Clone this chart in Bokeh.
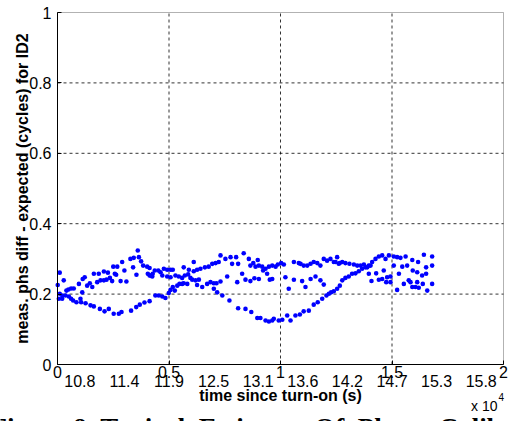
from bokeh.plotting import figure
from bokeh.models import Range1d, FixedTicker, Label, CustomJSTickFormatter, BoxAnnotation
from bokeh.embed import file_html
from bokeh.resources import INLINE

# time since turn-on, in units of 1e4 s
time_1e4s = [
    0.001, 0.010, 0.028, 0.010, 0.021, 0.006, 0.021, 0.040, 0.049, 0.061,
    0.073, 0.036, 0.051, 0.061, 0.070, 0.085, 0.103, 0.106, 0.126, 0.096,
    0.113, 0.122, 0.111, 0.133, 0.145, 0.156, 0.163, 0.185, 0.208, 0.226,
    0.148, 0.163, 0.190, 0.211, 0.230, 0.178, 0.193, 0.208, 0.220, 0.235,
    0.245, 0.252, 0.275, 0.287, 0.250, 0.268, 0.257, 0.263, 0.283, 0.309,
    0.290, 0.300, 0.327, 0.342, 0.360, 0.365, 0.375, 0.384, 0.405, 0.413,
    0.339, 0.354, 0.330, 0.353, 0.369, 0.390, 0.413,
    0.402, 0.413, 0.417, 0.427, 0.436, 0.452, 0.462, 0.477, 0.492, 0.507,
    0.517, 0.425, 0.470, 0.492, 0.507, 0.439, 0.454, 0.470, 0.484, 0.499,
    0.507, 0.517, 0.526, 0.537, 0.547, 0.559, 0.566, 0.582, 0.529, 0.544,
    0.559, 0.571, 0.566, 0.586, 0.596, 0.611, 0.589, 0.611, 0.626, 0.604,
    0.619, 0.634, 0.626, 0.649, 0.671, 0.686, 0.701, 0.713, 0.641, 0.661,
    0.678, 0.694, 0.709, 0.723, 0.731, 0.753, 0.776, 0.783, 0.801, 0.810,
    0.835, 0.701, 0.716, 0.739, 0.771, 0.810, 0.731, 0.761, 0.806, 0.828,
    0.858, 0.878, 0.898, 0.865, 0.888, 0.903, 0.918, 0.933, 0.948, 0.963,
    0.978, 0.988, 1.003, 1.015, 0.922, 0.940, 0.843, 0.865, 0.883, 0.903,
    0.952, 0.963, 0.843, 0.869, 0.896, 0.910, 0.933, 0.948, 0.963, 0.970,
    0.992, 1.008, 1.022, 1.037, 1.045, 1.060, 1.097, 1.112, 1.135, 1.157,
    1.179, 1.194, 1.030, 1.067, 1.087, 1.104, 1.127, 1.149, 1.167, 1.187,
    1.206, 1.217, 1.227, 1.239, 1.254, 1.266, 1.060, 1.082, 1.090, 1.104,
    1.120, 1.135, 1.149, 1.165, 1.179, 1.194, 1.209, 1.224, 1.239, 1.254,
    1.266,
    1.247, 1.261, 1.277, 1.291, 1.309, 1.329, 1.344, 1.359, 1.374, 1.389,
    1.404, 1.277, 1.291, 1.306, 1.321, 1.336, 1.351, 1.366, 1.381, 1.396,
    1.411, 1.426, 1.441, 1.456, 1.471, 1.486, 1.396, 1.408, 1.429, 1.441,
    1.456, 1.463, 1.474, 1.478, 1.493, 1.493, 1.508, 1.523, 1.538, 1.561,
    1.591, 1.617, 1.643, 1.653, 1.680, 1.508, 1.531, 1.546, 1.568, 1.593,
    1.613, 1.635, 1.653, 1.680, 1.523, 1.553, 1.575, 1.583, 1.605, 1.613,
    1.638, 1.658, 1.680, 1.591, 1.620,
]

# measured phase difference minus expected, in cycles
phase_diff_cycles = [
    0.226, 0.261, 0.239, 0.201, 0.196, 0.187, 0.187, 0.210, 0.213, 0.216,
    0.216, 0.196, 0.193, 0.187, 0.182, 0.177, 0.187, 0.177, 0.174, 0.229,
    0.243, 0.248, 0.205, 0.224, 0.231, 0.220, 0.258, 0.258, 0.264, 0.261,
    0.168, 0.165, 0.158, 0.151, 0.158, 0.234, 0.239, 0.239, 0.241, 0.246,
    0.237, 0.144, 0.144, 0.149, 0.278, 0.278, 0.258, 0.255, 0.237, 0.236,
    0.291, 0.267, 0.300, 0.303, 0.324, 0.305, 0.293, 0.281, 0.258, 0.253,
    0.276, 0.255, 0.153, 0.163, 0.170, 0.176, 0.180,
    0.278, 0.274, 0.253, 0.258, 0.267, 0.267, 0.262, 0.272, 0.269, 0.269,
    0.269, 0.250, 0.253, 0.250, 0.248, 0.196, 0.196, 0.193, 0.189, 0.203,
    0.212, 0.220, 0.210, 0.224, 0.229, 0.229, 0.231, 0.229, 0.253, 0.250,
    0.246, 0.253, 0.276, 0.256, 0.246, 0.291, 0.269, 0.265, 0.269, 0.241,
    0.239, 0.241, 0.226, 0.220, 0.229, 0.234, 0.231, 0.231, 0.272, 0.276,
    0.278, 0.286, 0.288, 0.291, 0.310, 0.300, 0.305, 0.286, 0.305, 0.286,
    0.316, 0.215, 0.205, 0.196, 0.182, 0.160, 0.236, 0.250, 0.234, 0.258,
    0.300, 0.288, 0.297, 0.281, 0.278, 0.281, 0.278, 0.272, 0.278, 0.281,
    0.278, 0.284, 0.288, 0.284, 0.267, 0.258, 0.241, 0.237, 0.245, 0.243,
    0.241, 0.243, 0.158, 0.149, 0.132, 0.132, 0.125, 0.122, 0.125, 0.130,
    0.125, 0.127, 0.248, 0.215, 0.125, 0.241, 0.237, 0.220, 0.243, 0.250,
    0.239, 0.227, 0.139, 0.139, 0.142, 0.151, 0.153, 0.170, 0.177, 0.187,
    0.196, 0.201, 0.205, 0.208, 0.215, 0.224, 0.291, 0.288, 0.286, 0.281,
    0.281, 0.286, 0.291, 0.288, 0.281, 0.300, 0.295, 0.300, 0.291, 0.305,
    0.288,
    0.291, 0.286, 0.291, 0.288, 0.286, 0.284, 0.281, 0.281, 0.284, 0.276,
    0.281, 0.239, 0.246, 0.250, 0.258, 0.259, 0.265, 0.272, 0.276, 0.281,
    0.291, 0.300, 0.307, 0.310, 0.300, 0.310, 0.258, 0.237, 0.259, 0.241,
    0.243, 0.267, 0.234, 0.248, 0.250, 0.234, 0.307, 0.305, 0.303, 0.307,
    0.297, 0.291, 0.312, 0.276, 0.307, 0.281, 0.258, 0.278, 0.281, 0.267,
    0.262, 0.253, 0.258, 0.281, 0.212, 0.229, 0.239, 0.234, 0.220, 0.234,
    0.229, 0.210, 0.229, 0.220, 0.218,
]

x_ticks = [0, 0.5, 1, 1.5, 2]
y_ticks = [0, 0.2, 0.4, 0.6, 0.8, 1]

# secondary time-of-day annotation along the time axis (hours)
hour_positions = [0.1, 0.3, 0.5, 0.7, 0.9, 1.1, 1.3, 1.5, 1.7, 1.9]
hour_labels = ["10.8", "11.4", "11.9", "12.5", "13.1", "13.6", "14.2", "14.7", "15.3", "15.8"]

# caption words are set with wide (en) spaces between them
caption_words = ["Figure 8", "Typical", "Estimate", "Of", "Phase", "Calibration"]
caption_text = "\u2002".join(caption_words)

# page geometry (pixels): the axes box sits inside a canvas that also
# carries the tick rows, the exponent note and the figure caption
W, H = 511, 421
BOX_L, BOX_R, BOX_T, BOX_B = 57, 503, 12, 364
X0, X1 = x_ticks[0], x_ticks[-1]
Y0, Y1 = y_ticks[0], y_ticks[-1]
xpp = (X1 - X0) / (BOX_R - BOX_L)
ypp = (Y1 - Y0) / (BOX_B - BOX_T)

SANS = "Liberation Sans"

p = figure(
    width=W, height=H,
    output_backend="svg", toolbar_location=None,
    x_range=Range1d(X0 - BOX_L * xpp, X1 + (W - BOX_R) * xpp),
    y_range=Range1d(Y0 - (H - BOX_B) * ypp, Y1 + BOX_T * ypp),
    min_border=0,
    background_fill_color="white", border_fill_color="white",
)
p.outline_line_color = None
p.xgrid.visible = False
p.ygrid.visible = False

fmt = CustomJSTickFormatter(code="return tick.toString();")
for ax, ticks, bounds in ((p.xaxis[0], x_ticks, (X0, X1)), (p.yaxis[0], y_ticks, (Y0, Y1))):
    ax.ticker = FixedTicker(ticks=ticks)
    ax.formatter = fmt
    ax.fixed_location = 0
    ax.bounds = bounds
    ax.major_tick_in = 4
    ax.major_tick_out = 0
    ax.minor_tick_line_color = None
    ax.axis_line_color = "black"
    ax.major_tick_line_color = "black"
    ax.major_label_text_font = SANS
    ax.major_label_text_font_size = "16px"
    ax.major_label_text_color = "black"
    ax.axis_label_text_font = SANS
    ax.axis_label_text_font_size = "16px"
    ax.axis_label_text_font_style = "bold"
    ax.axis_label_text_color = "black"

p.xaxis.axis_label = "time since turn-on (s)"
p.xaxis.major_label_standoff = 1
p.xaxis.axis_label_standoff = 6
p.yaxis.axis_label = "meas. phs diff - expected (cycles) for ID2"
p.yaxis.major_label_standoff = 6
p.yaxis.axis_label_standoff = -5

# dotted grid inside the axes box
gx = x_ticks[1:-1]
gy = y_ticks[1:-1]
p.segment(x0=gx, y0=[Y0] * len(gx), x1=gx, y1=[Y1] * len(gx),
          line_color="black", line_alpha=0.8, line_dash="3 3", line_width=1)
p.segment(x0=[X0] * len(gy), y0=gy, x1=[X1] * len(gy), y1=gy,
          line_color="black", line_alpha=0.8, line_dash="3 3", line_width=1)

p.add_layout(BoxAnnotation(left=X0, right=X1, bottom=Y0, top=Y1,
                           fill_alpha=0, line_color="black", line_width=1))

p.scatter(time_1e4s, phase_diff_cycles, size=4.6, fill_color="#0000ff",
          line_color=None)

for xpos, txt in zip(hour_positions, hour_labels):
    p.add_layout(Label(x=xpos, y=-0.0455, text=txt, text_align="center",
                       text_baseline="middle", text_font=SANS,
                       text_font_size="16px", text_color="black"))

p.add_layout(Label(x=1.973, y=-0.119, text="x 10", text_align="right",
                   text_baseline="middle", text_font=SANS,
                   text_font_size="14px", text_color="black"))
p.add_layout(Label(x=1.978, y=-0.091, text="4", text_align="left",
                   text_baseline="middle", text_font=SANS,
                   text_font_size="10px", text_color="black"))

# figure caption: only its upper part falls inside the page
p.add_layout(Label(x=-0.30, y=-0.1392, text=caption_text, text_align="left",
                   text_baseline="top", text_font="Liberation Serif",
                   text_font_size="27px", text_font_style="bold",
                   text_color="black"))

open("out.html", "w").write(file_html(p, INLINE))
